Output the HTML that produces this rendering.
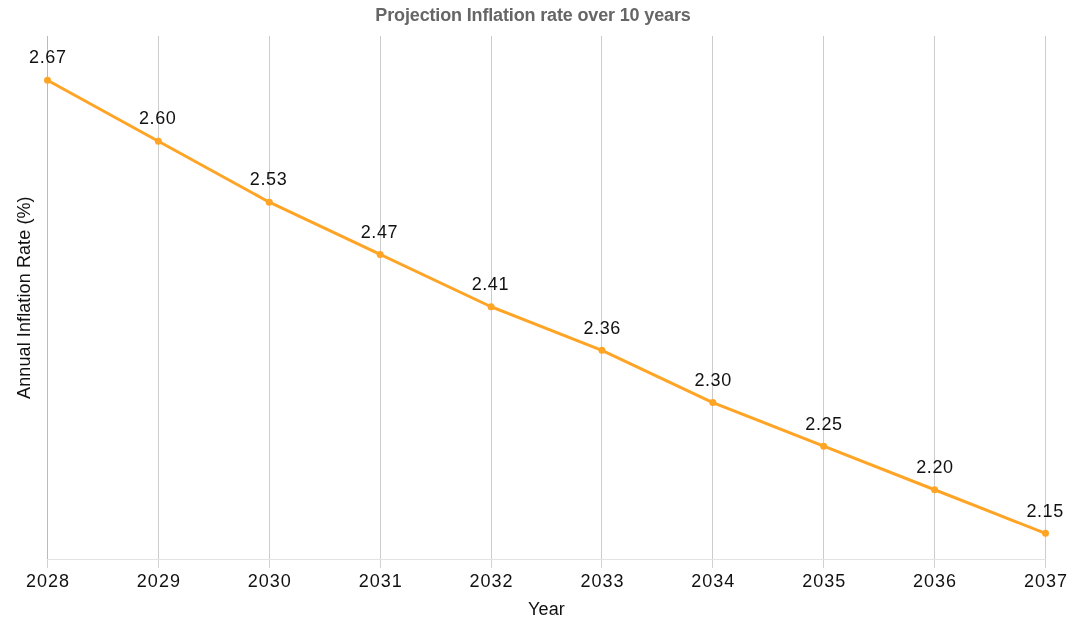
<!DOCTYPE html>
<html><head><meta charset="utf-8"><title>Projection Inflation rate over 10 years</title>
<style>
html,body{margin:0;padding:0;background:#fff;}
body{width:1070px;height:635px;overflow:hidden;}
svg{display:block;will-change:transform;}
text{font-family:'Liberation Sans', 'DejaVu Sans', sans-serif;fill:#111;}
.dl{font-size:18px;text-anchor:middle;letter-spacing:0.6px;}
.xl{font-size:18px;text-anchor:middle;letter-spacing:1.0px;}
.at{font-size:18px;text-anchor:middle;letter-spacing:0.1px;}
.ti{font-size:18px;font-weight:bold;fill:#666;text-anchor:middle;letter-spacing:-0.15px;}
</style></head><body>
<svg width="1070" height="635" viewBox="0 0 1070 635">
<line x1="47.5" y1="36" x2="47.5" y2="559" stroke="#bababa" stroke-width="1"/>
<line x1="47.5" y1="560" x2="47.5" y2="568" stroke="#d2d2d2" stroke-width="1"/>
<line x1="158.5" y1="36" x2="158.5" y2="559" stroke="#cccccc" stroke-width="1"/>
<line x1="158.5" y1="560" x2="158.5" y2="568" stroke="#d2d2d2" stroke-width="1"/>
<line x1="269.5" y1="36" x2="269.5" y2="559" stroke="#cccccc" stroke-width="1"/>
<line x1="269.5" y1="560" x2="269.5" y2="568" stroke="#d2d2d2" stroke-width="1"/>
<line x1="380.5" y1="36" x2="380.5" y2="559" stroke="#cccccc" stroke-width="1"/>
<line x1="380.5" y1="560" x2="380.5" y2="568" stroke="#d2d2d2" stroke-width="1"/>
<line x1="491.5" y1="36" x2="491.5" y2="559" stroke="#cccccc" stroke-width="1"/>
<line x1="491.5" y1="560" x2="491.5" y2="568" stroke="#d2d2d2" stroke-width="1"/>
<line x1="601.5" y1="36" x2="601.5" y2="559" stroke="#cccccc" stroke-width="1"/>
<line x1="601.5" y1="560" x2="601.5" y2="568" stroke="#d2d2d2" stroke-width="1"/>
<line x1="712.5" y1="36" x2="712.5" y2="559" stroke="#cccccc" stroke-width="1"/>
<line x1="712.5" y1="560" x2="712.5" y2="568" stroke="#d2d2d2" stroke-width="1"/>
<line x1="823.5" y1="36" x2="823.5" y2="559" stroke="#cccccc" stroke-width="1"/>
<line x1="823.5" y1="560" x2="823.5" y2="568" stroke="#d2d2d2" stroke-width="1"/>
<line x1="934.5" y1="36" x2="934.5" y2="559" stroke="#cccccc" stroke-width="1"/>
<line x1="934.5" y1="560" x2="934.5" y2="568" stroke="#d2d2d2" stroke-width="1"/>
<line x1="1045.5" y1="36" x2="1045.5" y2="559" stroke="#cccccc" stroke-width="1"/>
<line x1="1045.5" y1="560" x2="1045.5" y2="568" stroke="#d2d2d2" stroke-width="1"/>
<line x1="47" y1="559.5" x2="1046" y2="559.5" stroke="#e3e3e3" stroke-width="1"/>
<polyline points="47.50,80.20 158.39,141.20 269.28,202.20 380.17,254.48 491.06,306.76 601.94,350.33 712.83,402.62 823.72,446.19 934.61,489.76 1045.50,533.33" fill="none" stroke="#FFA424" stroke-width="3" stroke-linejoin="round" stroke-linecap="round"/>
<circle cx="47.50" cy="80.20" r="3.5" fill="#FFA424"/>
<circle cx="158.39" cy="141.20" r="3.5" fill="#FFA424"/>
<circle cx="269.28" cy="202.20" r="3.5" fill="#FFA424"/>
<circle cx="380.17" cy="254.48" r="3.5" fill="#FFA424"/>
<circle cx="491.06" cy="306.76" r="3.5" fill="#FFA424"/>
<circle cx="601.94" cy="350.33" r="3.5" fill="#FFA424"/>
<circle cx="712.83" cy="402.62" r="3.5" fill="#FFA424"/>
<circle cx="823.72" cy="446.19" r="3.5" fill="#FFA424"/>
<circle cx="934.61" cy="489.76" r="3.5" fill="#FFA424"/>
<circle cx="1045.50" cy="533.33" r="3.5" fill="#FFA424"/>
<text x="47.80" y="63" class="dl">2.67</text>
<text x="157.69" y="124" class="dl">2.60</text>
<text x="268.58" y="185" class="dl">2.53</text>
<text x="379.47" y="238" class="dl">2.47</text>
<text x="490.36" y="290" class="dl">2.41</text>
<text x="602.24" y="334" class="dl">2.36</text>
<text x="713.13" y="386" class="dl">2.30</text>
<text x="824.02" y="430" class="dl">2.25</text>
<text x="934.91" y="473" class="dl">2.20</text>
<text x="1045.10" y="517" class="dl">2.15</text>
<text x="48.00" y="587" class="xl">2028</text>
<text x="158.89" y="587" class="xl">2029</text>
<text x="269.78" y="587" class="xl">2030</text>
<text x="380.67" y="587" class="xl">2031</text>
<text x="491.56" y="587" class="xl">2032</text>
<text x="602.44" y="587" class="xl">2033</text>
<text x="713.33" y="587" class="xl">2034</text>
<text x="824.22" y="587" class="xl">2035</text>
<text x="935.11" y="587" class="xl">2036</text>
<text x="1046.00" y="587" class="xl">2037</text>
<text x="546.5" y="615" class="at">Year</text>
<text transform="translate(30.2,297.6) rotate(-90)" x="0" y="0" class="at">Annual Inflation Rate (%)</text>
<text x="533" y="21" class="ti">Projection Inflation rate over 10 years</text>
</svg>
</body></html>
